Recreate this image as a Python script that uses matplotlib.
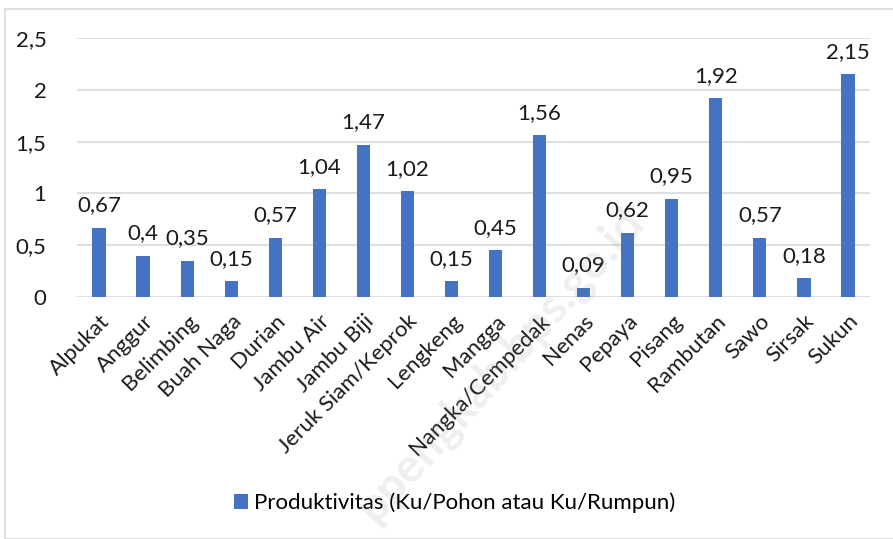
import numpy as np
import matplotlib.pyplot as plt
from matplotlib.patches import Rectangle

# Data
categories = ['Alpukat', 'Anggur', 'Belimbing', 'Buah Naga', 'Durian', 'Jambu Air',
              'Jambu Biji', 'Jeruk Siam/Keprok', 'Lengkeng', 'Mangga', 'Nangka/Cempedak',
              'Nenas', 'Pepaya', 'Pisang', 'Rambutan', 'Sawo', 'Sirsak', 'Sukun']
values = [0.67, 0.4, 0.35, 0.15, 0.57, 1.04, 1.47, 1.02, 0.15, 0.45, 1.56,
          0.09, 0.62, 0.95, 1.92, 0.57, 0.18, 2.15]
yticks = [0, 0.5, 1, 1.5, 2, 2.5]
series_name = 'Produktivitas (Ku/Pohon atau Ku/Rumpun)'

plt.rcParams['font.family'] = ['Lato', 'DejaVu Sans']
txt_color = '#1a1a1a'
fs = 16

fig = plt.figure(figsize=(8.93, 5.39), dpi=100)
ax = fig.add_axes([77 / 893, 1 - 297 / 539, (870 - 77) / 893, 259 / 539])

# chart frame
fig.patches.append(Rectangle((5 / 893, 0), 1, 1 - 9 / 539, transform=fig.transFigure,
                             fill=False, edgecolor='#d9d9d9', linewidth=1.2))

x = np.arange(len(categories))
ax.bar(x, values, width=0.3, color='#4472C4', zorder=3, label=series_name)

for xi, v in zip(x, values):
    lbl = f'{v:.2f}'.rstrip('0').rstrip('.').replace('.', ',')
    ax.text(xi, v + 0.12, lbl, ha='center', va='bottom', fontsize=fs, color=txt_color)

ax.set_xlim(-0.5, len(categories) - 0.5)
ax.set_ylim(0, 2.5)
ax.set_yticks(yticks)
ax.set_yticklabels([str(t).replace('.', ',') if t % 1 else str(int(t)) for t in yticks],
                   fontsize=fs, color=txt_color)
ax.set_xticks(x)
ax.set_xticklabels(categories, rotation=45, ha='right', rotation_mode='anchor',
                   fontsize=fs, color=txt_color)
ax.tick_params(axis='x', length=0, pad=10)
ax.tick_params(axis='y', length=0, pad=22)
ax.grid(axis='y', color='#d9d9d9', linewidth=1.2, zorder=0)
for s in ax.spines.values():
    s.set_visible(False)

ax.legend(loc='center', bbox_to_anchor=(455 / 893, 1 - 503 / 539),
          bbox_transform=fig.transFigure, frameon=False, fontsize=fs,
          handlelength=0.6, handleheight=0.6, handletextpad=0.3)

# watermark
fig.text(500 / 893, 1 - 365 / 539, 'ppengkab.bps.go.id', rotation=48, fontsize=34,
         fontweight='bold', color='gray', alpha=0.13, ha='center', va='center', zorder=10)

fig.savefig('out.png', dpi=100)
